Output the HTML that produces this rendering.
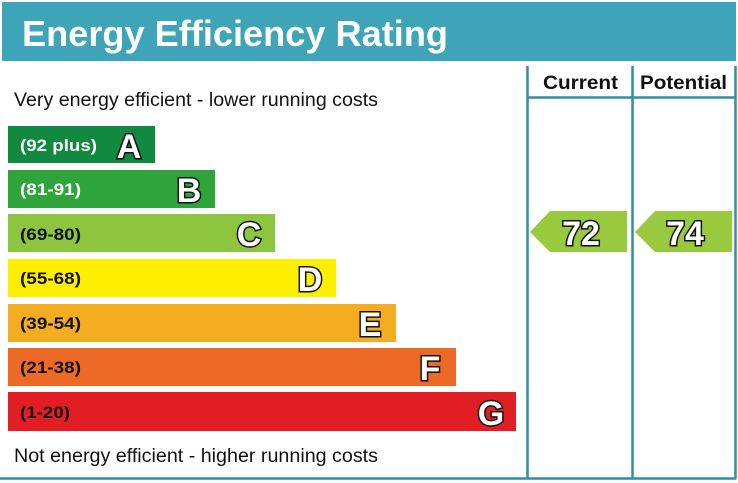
<!DOCTYPE html><html><head><style>body{margin:0;background:#fff}</style></head><body>
<svg width="738" height="483" xmlns="http://www.w3.org/2000/svg" style="display:block;font-family:'Liberation Sans',Arial,sans-serif">
<rect x="2" y="2" width="734" height="59" fill="#3ea5b8"/>
<text x="22" y="46" font-size="36" font-weight="bold" fill="#fff" textLength="426" lengthAdjust="spacingAndGlyphs">Energy Efficiency Rating</text>
<g stroke="#2f8ea0" stroke-width="2.5">
<line x1="527.5" y1="66" x2="527.5" y2="479"/>
<line x1="632.5" y1="66" x2="632.5" y2="479"/>
<line x1="735.5" y1="66" x2="735.5" y2="479"/>
<line x1="527" y1="97.5" x2="736" y2="97.5"/>
<line x1="0" y1="478.5" x2="736" y2="478.5"/>
</g>
<text x="543" y="89" font-size="19" font-weight="bold" fill="#111" textLength="75" lengthAdjust="spacingAndGlyphs">Current</text>
<text x="640" y="89" font-size="19" font-weight="bold" fill="#111" textLength="87" lengthAdjust="spacingAndGlyphs">Potential</text>
<text x="14" y="106" font-size="19" fill="#111" textLength="364" lengthAdjust="spacingAndGlyphs">Very energy efficient - lower running costs</text>
<text x="14" y="462" font-size="19" fill="#111" textLength="364" lengthAdjust="spacingAndGlyphs">Not energy efficient - higher running costs</text>
<g font-weight="bold">
<rect x="8" y="126" width="147" height="37" fill="#118a3f"/>
<rect x="8" y="170" width="207" height="38" fill="#2ea43a"/>
<rect x="8" y="214" width="267" height="38" fill="#8dc440"/>
<rect x="8" y="259" width="328" height="38" fill="#feef00"/>
<rect x="8" y="304" width="388" height="38" fill="#f4ac20"/>
<rect x="8" y="348" width="448" height="38" fill="#ec6a26"/>
<rect x="8" y="392" width="508" height="39" fill="#e21e25"/>
<g font-size="17">
<text x="20" y="151" fill="#fff" textLength="77" lengthAdjust="spacingAndGlyphs">(92 plus)</text>
<text x="20" y="195" fill="#fff" textLength="61" lengthAdjust="spacingAndGlyphs">(81-91)</text>
<text x="20" y="240" fill="#111" textLength="61" lengthAdjust="spacingAndGlyphs">(69-80)</text>
<text x="20" y="284" fill="#111" textLength="61" lengthAdjust="spacingAndGlyphs">(55-68)</text>
<text x="20" y="329" fill="#111" textLength="61" lengthAdjust="spacingAndGlyphs">(39-54)</text>
<text x="20" y="373" fill="#111" textLength="61" lengthAdjust="spacingAndGlyphs">(21-38)</text>
<text x="20" y="418" fill="#111" textLength="50" lengthAdjust="spacingAndGlyphs">(1-20)</text>
</g>
<g font-size="34" fill="#fff" stroke="#111" stroke-width="3" paint-order="stroke" text-anchor="middle">
<text x="129" y="158">A</text>
<text x="189" y="202">B</text>
<text x="249" y="246">C</text>
<text x="310" y="291">D</text>
<text x="370" y="336">E</text>
<text x="430" y="380">F</text>
<text x="491" y="425">G</text>
</g>
<polygon points="530,232 550,211 627,211 627,252 550,252" fill="#99c93e"/>
<polygon points="635,232 655,211 732,211 732,252 655,252" fill="#99c93e"/>
<g font-size="34" fill="#fff" stroke="#111" stroke-width="3" paint-order="stroke" text-anchor="middle">
<text x="581" y="245">72</text>
<text x="685" y="245">74</text>
</g>
</g>
</svg>
</body></html>
